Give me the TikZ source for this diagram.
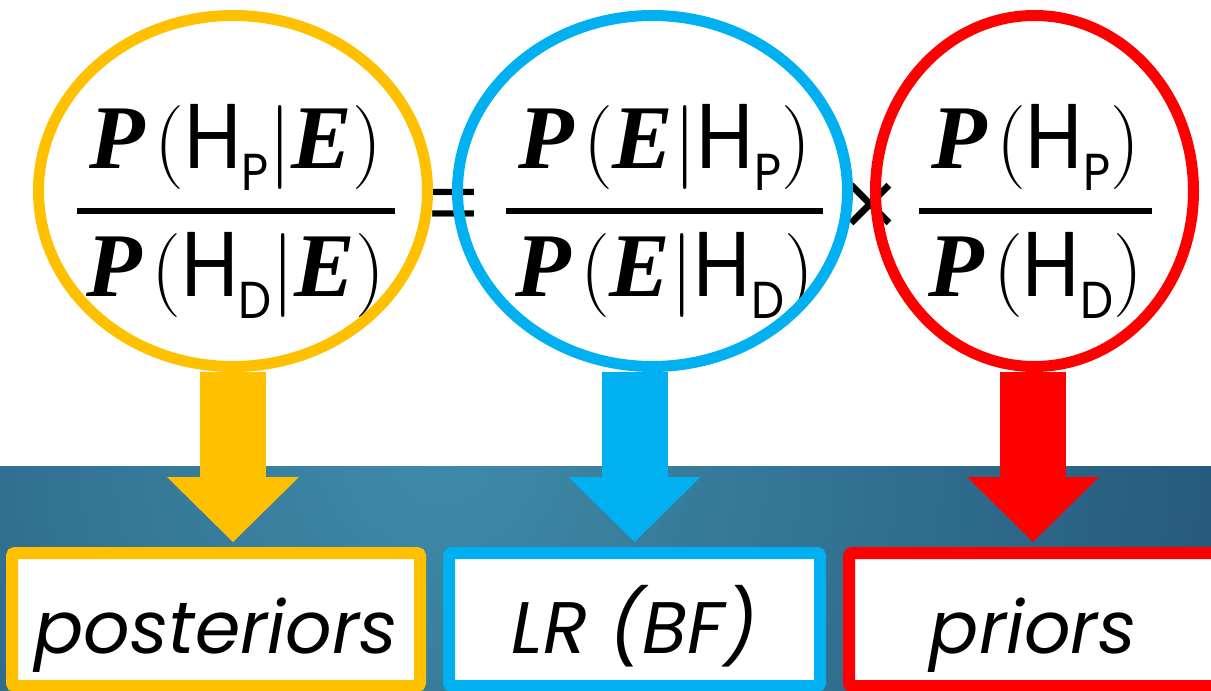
\RequirePackage{fix-cm}
\documentclass[tikz,border=0pt]{standalone}
\usepackage{amsmath}
\usepackage{fontspec}
\newfontfamily\labelfont{Poppins}
\newfontfamily\hypfont[FakeStretch=0.9]{Poppins}
\newfontfamily\varfont{Liberation Serif}
\newfontfamily\signfont{Liberation Sans}
\usetikzlibrary{shapes.geometric,arrows.meta}

\definecolor{postcol}{HTML}{FFC000}
\definecolor{lrcol}{HTML}{00B0F0}
\definecolor{priorcol}{HTML}{FF0000}
\definecolor{bandlight}{HTML}{3F8BA9}
\definecolor{banddark}{HTML}{163A60}

% pieces of the odds formulas
\newcommand{\probP}{\mbox{\varfont\bfseries\itshape\fontsize{91}{91}\selectfont P}\mkern2mu}
\newcommand{\evidE}{\mbox{\varfont\bfseries\itshape\fontsize{91}{91}\selectfont E}}
\newcommand{\hyp}[1]{\mbox{\hypfont\fontsize{92}{92}\selectfont H\raisebox{-22pt}{\fontsize{52}{52}\selectfont #1}}}
\newcommand{\odds}[2]{\fontsize{84}{100}\selectfont$\displaystyle\genfrac{}{}{6pt}{0}{\mkern2mu#1\mkern2mu}{\mkern2mu#2\mkern2mu}$}

\tikzset{
  ring/.style={ellipse, draw, line width=11pt, minimum height=351pt, inner sep=0pt},
  labelbox/.style={draw, line width=12pt, fill=white, rounded corners=3pt,
    minimum height=133pt, text height=67pt, text depth=0pt,
    font=\labelfont\itshape\fontsize{73}{73}\selectfont},
  fatarrow/.style={line width=66pt, -{Triangle[length=65pt,width=132pt,line width=0pt]}, shorten >=5pt},
  opsign/.style={inner sep=0pt}
}

\begin{document}
\begin{tikzpicture}[x=1pt,y=-1pt]
\useasboundingbox (0,0) rectangle (1211,691);

% shaded band behind the labels
\begin{scope}
\clip (0,466) rectangle (1211,691);
\shade[inner color=bandlight, outer color=banddark] (440,450) circle (1300pt);
\end{scope}

\node[opsign, font=\signfont\fontsize{86}{86}\selectfont] (eq) at (454,210.5) {=};
\node[opsign, font=\signfont\fontsize{96}{96}\selectfont] (times) at (871,210) {×};

% the three ratios
\node[anchor=base] (postfrac) at (236,232) {\odds{\probP(\hyp{P}\vert\evidE)}{\probP(\hyp{D}\vert\evidE)}};
\node[anchor=base] (lrfrac) at (664.5,232) {\odds{\probP(\evidE\vert\hyp{P})}{\probP(\evidE\vert\hyp{D})}};
\node[anchor=base] (priorfrac) at (1035.5,232) {\odds{\probP(\hyp{P})}{\probP(\hyp{D})}};

\node[ring, draw=postcol, minimum width=389pt] (post) at (233,191) {};
\node[ring, draw=lrcol, minimum width=390pt] (lr) at (652.5,191) {};
\node[ring, draw=priorcol, minimum width=318pt] (prior) at (1034.5,191) {};

\node[labelbox, draw=postcol, minimum width=408pt] (postbox) at (216,619.5) {posteriors};
\node[labelbox, draw=lrcol, minimum width=371pt] (lrbox) at (634.5,619.5) {LR (BF)};
\node[labelbox, draw=priorcol, minimum width=368pt] (priorbox) at (1033,619.5) {priors};

\draw[fatarrow, postcol] (post.south) -- (post.south |- postbox.north);
\draw[fatarrow, lrcol] (lrbox.north |- lr.south) -- (lrbox.north);
\draw[fatarrow, priorcol] (priorbox.north |- prior.south) -- (priorbox.north);
\end{tikzpicture}
\end{document}
